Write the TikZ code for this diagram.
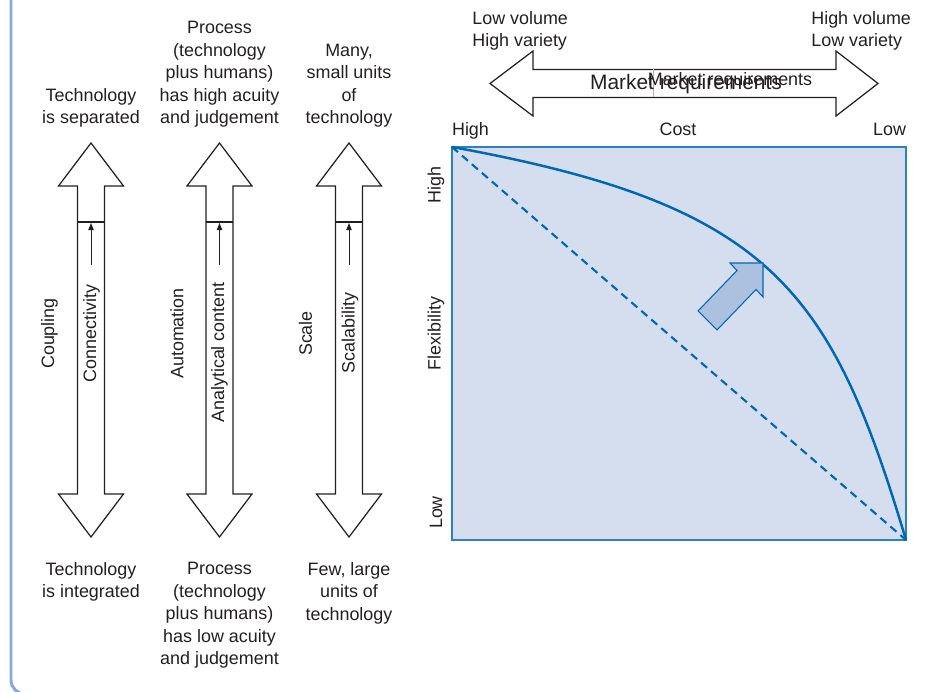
\documentclass[tikz,border=0pt]{standalone}
\usepackage{fontspec}
\setmainfont{Liberation Sans}
\usetikzlibrary{arrows.meta}
\definecolor{ink}{RGB}{35,31,32}
\definecolor{framecol}{RGB}{135,168,222}
\definecolor{boxfill}{RGB}{212,222,239}
\definecolor{boxline}{RGB}{45,128,196}
\definecolor{curveblue}{RGB}{0,103,177}
\definecolor{arrowfill}{RGB}{172,192,224}
\begin{document}
\begin{tikzpicture}[
  x=0.02cm, y=-0.02cm,
  lbl/.style={inner sep=0pt, align=center, text=ink, font=\fontsize{10.2}{12.8}\selectfont},
  vlbl/.style={lbl, rotate=90},
  bigarrow/.style={draw=ink, line width=0.7pt, fill=white, line join=miter},
  upmark/.style={-{Triangle[length=4pt,width=3pt]}, draw=ink, line width=0.55pt},
  chart/.style={draw=boxline, line width=0.85pt, fill=boxfill},
  frontier/.style={draw=curveblue, line width=1.4pt},
  diag/.style={draw=curveblue, line width=1.2pt, dash pattern=on 4.5pt off 3pt},
  movearrow/.style={draw=curveblue, line width=0.6pt, fill=arrowfill, line join=miter},
  frame/.style={draw=framecol, line width=1.7pt, rounded corners=8pt}
]
  \useasboundingbox (0,0) rectangle (952,692);
  \draw[frame] (11,-10) |- (970,694);

  % Vertical arrows
  \draw[bigarrow] (91,143) -- ++(32.5,43) -- ++(-19,0) -- ++(0,308) -- ++(19,0) -- ++(-32.5,43)
    -- ++(-32.5,-43) -- ++(19,0) -- ++(0,-308) -- ++(-19,0) -- cycle;
  \draw[bigarrow] (219.5,143) -- ++(32.5,43) -- ++(-19,0) -- ++(0,308) -- ++(19,0) -- ++(-32.5,43)
    -- ++(-32.5,-43) -- ++(19,0) -- ++(0,-308) -- ++(-19,0) -- cycle;
  \draw[bigarrow] (349,143) -- ++(32.5,43) -- ++(-19,0) -- ++(0,308) -- ++(19,0) -- ++(-32.5,43)
    -- ++(-32.5,-43) -- ++(19,0) -- ++(0,-308) -- ++(-19,0) -- cycle;
  \draw[bigarrow] (77.5,222) -- ++(27,0);
  \draw[bigarrow] (206,222) -- ++(27,0);
  \draw[bigarrow] (335.5,222) -- ++(27,0);
  \draw[upmark] (91,265) -- (91,223);
  \draw[upmark] (219.5,265) -- (219.5,223);
  \draw[upmark] (349,265) -- (349,223);

  \node[lbl, anchor=south] (sep) at (91,128) {Technology\\is separated};
  \node[lbl, anchor=south] (hiacu) at (219.5,128) {Process\\(technology\\plus humans)\\has high acuity\\and judgement};
  \node[lbl, anchor=south] (many) at (349,128) {Many,\\small units\\of\\technology};
  \node[lbl, anchor=north] (integ) at (91,562) {Technology\\is integrated};
  \node[lbl, anchor=north] (loacu) at (219.5,562) {Process\\(technology\\plus humans)\\has low acuity\\and judgement};
  \node[lbl, anchor=north] (few) at (349,562) {Few, large\\units of\\technology};

  \node[vlbl] (coupling) at (49.5,333.5) {Coupling};
  \node[vlbl] (conn) at (91.5,333.5) {Connectivity};
  \node[vlbl] (auto) at (177,333.5) {Automation};
  \node[vlbl] (anal) at (219.5,352.5) {Analytical content};
  \node[vlbl] (scale) at (305.5,333.5) {Scale};
  \node[vlbl] (scalab) at (350,333) {Scalability};

  % Market requirements
  \draw[bigarrow] (490,83.5) -- (533,51) -- (533,69.5) -- (836,69.5) -- (836,51) -- (878,83.5)
    -- (836,116) -- (836,97.5) -- (533,97.5) -- (533,116) -- cycle;
  \draw[gray!60, line width=0.3pt] (653,69.5) -- (653,97.5);
  \node[lbl, anchor=base, font=\fontsize{11.9}{14}\selectfont] (mkt) at (686,90) {Market requirements};
  \node[lbl, anchor=base] (mkt2) at (730,86) {Market requirements};
  \node[lbl, anchor=north west, align=left] (lowvol) at (472,11) {Low volume\\High variety};
  \node[lbl, anchor=north west, align=left] (highvol) at (811,11) {High volume\\Low variety};

  % Cost vs flexibility
  \node[lbl, anchor=base] (costhi) at (470.5,136) {High};
  \node[lbl, anchor=base] (cost) at (678,136) {Cost};
  \node[lbl, anchor=base] (costlo) at (889.5,136) {Low};
  \node[vlbl] (flexhi) at (436,185) {High};
  \node[vlbl] (flex) at (436,333.5) {Flexibility};
  \node[vlbl] (flexlo) at (436,512.5) {Low};

  \draw[chart] (452,147) rectangle (906,540);
  \coordinate (hi) at (452,147);
  \coordinate (lo) at (906,540);
  \draw[diag] (hi) -- (lo);
  \draw[frontier] (hi) .. controls (772,205) and (831,290) .. (lo);
  \draw[movearrow] (763,263) -- (730,263) -- (737,270.5) -- (698,311) -- (717,330)
    -- (756,289.5) -- (763,297) -- cycle;
\end{tikzpicture}
\end{document}
